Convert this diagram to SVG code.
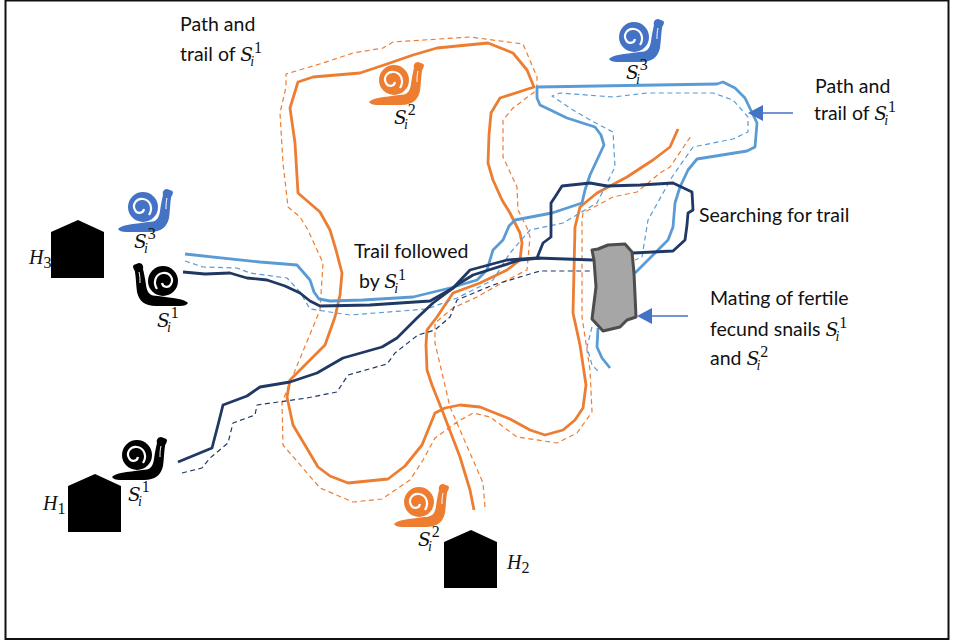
<svg xmlns="http://www.w3.org/2000/svg" xmlns:xlink="http://www.w3.org/1999/xlink" width="953" height="641" viewBox="0 0 953 641">
<style>
.t{font-family:"Lato","Open Sans","Liberation Sans",sans-serif;font-size:19.5px;fill:#111}
.m{font-family:"DejaVu Serif","Liberation Serif",serif;font-style:italic;font-size:18.5px;fill:#111}
.h{font-family:"Liberation Serif",serif;font-size:20px}
.n{font-family:"Liberation Serif",serif;font-style:normal;font-size:16px}
.i{font-family:"Liberation Serif",serif;font-size:14px}
.tr{fill:none;stroke-linejoin:round;stroke-linecap:butt}
.s{stroke-width:2.8}
.d{stroke-width:1.2;stroke-dasharray:5 3.5}
.o{stroke:#ed7d31}.b{stroke:#5b9bd5}.k{stroke:#1f3864}
.ar{stroke:#4472c4;stroke-width:1.3;fill:none}
.ah{fill:#4472c4}
</style>
<defs>
<g id="snail">
<path d="M0 40 C3 36 15 35 30 33 C38 33 41 30 42 22 C43 15 44 10 45 6 C44 3 46 0 49 0 C51 1 54 1 55 3 C55 6 53 7 53 9 C52 15 52 22 51 29 C49 38 43 43 32 43 L8 43 C4 43 1 42 0 40Z"/>
<circle cx="25" cy="18" r="15"/>
<path d="M31 26 C35 20 33 11 25 10 C18 9 14 16 17 21 C19 25 25 25 26 20" fill="none" stroke="#fff" stroke-width="2.200"/>
<path d="M49 9 C48 13 48 16 48 20" fill="none" stroke="#fff" stroke-width="1"/>
</g>
<path id="house" d="M0 12 L27 0 L53 12 L53 58 L0 58Z" fill="#000"/>
</defs>
<rect x="5.500" y="0.500" width="943" height="638.500" fill="#fff" stroke="#111" stroke-width="2"/>
<g id="connectors">
<polyline class="tr s o" points="474,510 470,490 460,457 442,410 432,385 427,370 426,345 427,330 437,317 453,293 480,283 507,270 520,260 522,243 520,233 510,213 502,200 493,180 488,163 489,135 491,113 500,98 534,87 527,70 513,53 488,43 437,48 413,55 387,64 360,73 313,77 298,82 290,108 295,143 298,193 320,212 330,230 336,250 342,273 340,295 335,317 325,345 290,380 287,397 293,425 318,467 330,476 348,483 388,479 405,466 422,445 435,413 445,408 460,405 480,407 510,419 530,430 545,435 563,430 575,420 583,408 586,385 580,345 573,313 574,270 575,227 580,207 597,193 627,177 653,160 670,147 678,129"/>
<polyline class="tr d o" points="485,507 483,483 470,453 450,407 443,377 435,343 435,323 453,308 477,297 507,280 527,270 530,237 528,230 518,210 517,187 503,157 503,120 513,108 537,90 537,77 523,44 470,37 393,42 383,48 353,53 323,63 286,74 286,87 280,113 283,163 288,207 300,217 308,230 323,263 320,310 287,390 282,403 283,445 320,488 353,502 382,499 410,480 423,460 435,438 457,422 473,413 490,417 517,437 557,443 577,433 592,412 590,370 582,317 582,220 583,213 613,197 637,192 660,173 670,167 691,136"/>
<polyline class="tr s b" points="185,254 260,262 297,265 310,280 314,292 319,299 330,301 363,300 413,297 450,288 477,280 487,270 493,250 503,240 509,226 515,220 552,213 582,203 585,190 590,175 604,145 601,135 595,127 567,118 540,105 537,98 537,87 717,84 723,82 735,88 745,98 757,123 755,147 747,151 697,159 688,170 680,187 675,203 673,227 668,240 635,273"/>
<polyline class="tr s b" points="598,328 597,347 602,358 610,368"/>
<polyline class="tr d b" points="185,261 203,267 237,268 250,273 287,278 300,292 310,309 350,315 427,309 457,298 493,280 510,253 530,230 563,223 597,203 615,167 613,132 590,120 573,110 552,96 560,93 613,97 647,93 713,93 733,100 748,117 748,132 733,139 693,147 672,177 648,220 642,257 635,260"/>
<polyline class="tr d b" points="592,327 587,347 592,365 600,373"/>
<polyline class="tr s k" points="183,272 205,274 230,273 240,276 247,278 267,280 285,286 300,293 310,301 320,306 370,305 430,301 453,288 470,270 507,260 537,258 593,260"/>
<polyline class="tr s k" points="178,462 212,448 218,425 223,405 247,396 260,387 290,382 317,373 343,358 382,347 397,338 417,318 433,303 460,283 473,275 520,260 540,258"/>
<polyline class="tr s k" points="633,253 673,251 685,240 687,225 688,213 693,210 692,192 673,183 640,185 607,186 590,183 562,186 555,197 551,203 551,237 543,243 537,258"/>
<polyline class="tr d k" points="182,473 202,468 210,458 228,443 233,423 255,415 257,405 307,398 337,392 348,375 387,364 395,353 418,335 435,330 450,317 457,300 493,285 540,271 590,271"/>
</g>
<g id="mating-area"><path d="M592 250 L598 249 L608 245 L625 244 L632 252 L634 273 L636 317 L627 320 L620 327 L603 331 L592 319 L596 287 L594 260Z" fill="#a6a6a6" stroke="#4d4d4d" stroke-width="3" stroke-linejoin="round"/></g>
<g id="arrow-path"><line class="ar" x1="793" y1="113" x2="760" y2="113"/><polygon class="ah" points="748,113 763,105 763,121"/></g>
<g id="arrow-mating"><line class="ar" x1="688" y1="316" x2="650" y2="316"/><polygon class="ah" points="637,316 652,308 652,324"/></g>
<g id="house-1"><use xlink:href="#house" href="#house" x="68" y="474"/><text class="m h" x="43" y="510">H<tspan class="n" dy="4">1</tspan></text></g>
<g id="house-2"><use xlink:href="#house" href="#house" x="444" y="530"/><text class="m h" x="507" y="569">H<tspan class="n" dy="4">2</tspan></text></g>
<g id="house-3"><use xlink:href="#house" href="#house" x="51" y="220"/><text class="m h" x="29" y="264">H<tspan class="n" dy="4">3</tspan></text></g>
<g id="snail-blue-left" fill="#4472c4"><use xlink:href="#snail" href="#snail" x="118" y="189"/><text class="m" x="134" y="248">S<tspan class="n" dx="1" dy="-9">3</tspan><tspan class="i" dx="-11.700" dy="14">i</tspan></text></g>
<g id="snail-black-left" fill="#000"><use xlink:href="#snail" href="#snail" transform="translate(188,263) scale(-1,1)"/><text class="m" x="157" y="327">S<tspan class="n" dx="1" dy="-9">1</tspan><tspan class="i" dx="-11.700" dy="14">i</tspan></text></g>
<g id="snail-black-lower" fill="#000"><use xlink:href="#snail" href="#snail" x="112" y="437"/><text class="m" x="128" y="501">S<tspan class="n" dx="1" dy="-9">1</tspan><tspan class="i" dx="-11.700" dy="14">i</tspan></text></g>
<g id="snail-orange-top" fill="#ed7d31"><use xlink:href="#snail" href="#snail" x="369" y="62"/><text class="m" x="394" y="124">S<tspan class="n" dx="1" dy="-9">2</tspan><tspan class="i" dx="-11.700" dy="14">i</tspan></text></g>
<g id="snail-orange-bottom" fill="#ed7d31"><use xlink:href="#snail" href="#snail" x="394" y="484"/><text class="m" x="418" y="546">S<tspan class="n" dx="1" dy="-9">2</tspan><tspan class="i" dx="-11.700" dy="14">i</tspan></text></g>
<g id="snail-blue-top" fill="#4472c4"><use xlink:href="#snail" href="#snail" x="609" y="19"/><text class="m" x="626" y="79">S<tspan class="n" dx="1" dy="-9">3</tspan><tspan class="i" dx="-11.700" dy="14">i</tspan></text></g>
<g id="labels">
<text class="t" x="180" y="31">Path and</text>
<text class="t" x="180" y="61">trail of <tspan class="m">S</tspan><tspan class="m n" dx="1" dy="-8">1</tspan><tspan class="m i" dx="-11.700" dy="13">i</tspan></text>
<text class="t" x="815" y="93">Path and</text>
<text class="t" x="814" y="120">trail of <tspan class="m">S</tspan><tspan class="m n" dx="1" dy="-8">1</tspan><tspan class="m i" dx="-11.700" dy="13">i</tspan></text>
<text class="t" x="699" y="222">Searching for trail</text>
<text class="t" x="354" y="258">Trail followed</text>
<text class="t" x="359" y="288">by <tspan class="m">S</tspan><tspan class="m n" dx="1" dy="-8">1</tspan><tspan class="m i" dx="-11.700" dy="13">i</tspan></text>
<text class="t" x="710" y="305">Mating of fertile</text>
<text class="t" x="710" y="336">fecund snails <tspan class="m">S</tspan><tspan class="m n" dx="1" dy="-8">1</tspan><tspan class="m i" dx="-11.700" dy="13">i</tspan></text>
<text class="t" x="710" y="365">and <tspan class="m">S</tspan><tspan class="m n" dx="1" dy="-8">2</tspan><tspan class="m i" dx="-11.700" dy="13">i</tspan></text>
</g>
</svg>
